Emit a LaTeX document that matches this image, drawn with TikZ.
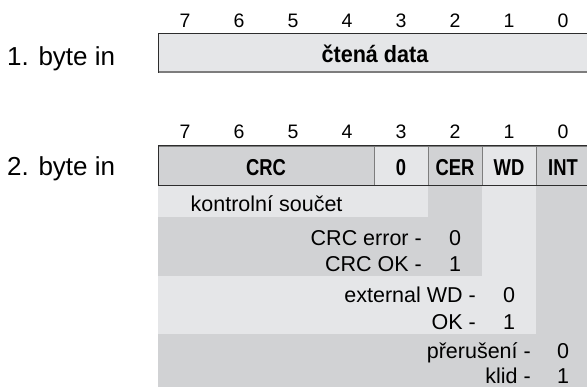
\documentclass[tikz,border=0pt]{standalone}
\usepackage{fontspec}
\setmainfont{Liberation Sans}
\newfontfamily\condbold{Liberation Sans}[FakeStretch=0.8,UprightFont={* Bold}]
\newfontfamily\databold{Liberation Sans}[FakeStretch=0.92,UprightFont={* Bold}]
\definecolor{cellLight}{RGB}{229,230,232}
\definecolor{cellDark}{RGB}{209,210,212}
\definecolor{frameDark}{RGB}{45,45,45}
\definecolor{frameGray}{RGB}{125,125,125}

\begin{document}
\begin{tikzpicture}[x=1pt,y=-1pt,
  bitnum/.style={anchor=base,inner sep=0,font=\fontsize{19.5}{22}\selectfont},
  rowlabel/.style={anchor=base west,inner sep=0,font=\fontsize{26}{30}\selectfont},
  field/.style={draw=frameGray,line width=0.8pt,inner sep=0,
    minimum height=39.3pt,anchor=north west},
  fieldtext/.style={anchor=base,inner sep=0,font=\condbold\fontsize{23}{27}\selectfont},
  desc/.style={anchor=base east,inner sep=0,font=\fontsize{21.5}{25}\selectfont},
  descwest/.style={anchor=base west,inner sep=0,font=\fontsize{21.5}{25}\selectfont},
  val/.style={anchor=base,inner sep=0,font=\fontsize{21.5}{25}\selectfont},
  frame/.style={draw=frameDark,line width=1pt}]

\useasboundingbox (0,0) rectangle (587,387);

% ---------- row labels ----------
\node[rowlabel] (lab1) at (7,66) {1. byte in};
\node[rowlabel] (lab2) at (7,176) {2. byte in};

% ---------- bit numbers ----------
\foreach \b [count=\i from 0] in {7,6,5,4,3,2,1,0} {
  \node[bitnum] (ta\b) at (185+54*\i,27.7) {\b};
  \node[bitnum] (tb\b) at (185+54*\i,139) {\b};
}

% ---------- first byte ----------
\fill[cellLight] (158,33.5) rectangle (592,72.7);
\draw[frameGray,line width=2pt] (158,71.7) -- (592,71.7);
\draw[frame] (592,33.5) -- (158,33.5) -- (158,72.7);
\node[anchor=base,inner sep=0,font=\databold\fontsize{23.5}{27}\selectfont]
  (data) at (375,62.8) {čtená data};

% ---------- description bands of the second byte ----------
\fill[cellDark]  (536,185) rectangle (592,387);
\fill[cellDark]  (158,334) rectangle (592,387);
\fill[cellLight] (482,185) rectangle (536,334);
\fill[cellLight] (158,276) rectangle (536,334);
\fill[cellDark]  (428,185) rectangle (482,276);
\fill[cellDark]  (158,217) rectangle (482,276);
\fill[cellLight] (158,185) rectangle (428,217);

% ---------- second byte fields ----------
\node[field,fill=cellDark,minimum width=216pt]  (crc) at (158,145.7) {};
\node[field,fill=cellLight,minimum width=54pt]  (zero) at (374,145.7) {};
\node[field,fill=cellDark,minimum width=54pt]   (cer) at (428,145.7) {};
\node[field,fill=cellLight,minimum width=54pt]  (wd) at (482,145.7) {};
\node[field,fill=cellDark,minimum width=54pt]   (int) at (536,145.7) {};
\draw[frame] (int.north east) -- (crc.north west) -- (crc.south west) -- (int.south east);

\node[fieldtext] (tcrc) at (266,175.5) {CRC};
\node[fieldtext] (tzero) at (401,175.5) {0};
\node[fieldtext] (tcer) at (455,175.5) {CER};
\node[fieldtext] (twd) at (509,175.5) {WD};
\node[fieldtext] (tint) at (563,175.5) {INT};

% ---------- descriptions ----------
\node[descwest] (ks) at (190.5,211.7) {kontrolní součet};

\node[desc] (cerr) at (422,245.7) {CRC error -};
\node[val]  (cerr0) at (455,245.7) {0};
\node[desc] (cok) at (422,271.7) {CRC OK -};
\node[val]  (cok1) at (455,271.7) {1};

\node[desc] (wext) at (476,302.7) {external WD -};
\node[val]  (wext0) at (509,302.7) {0};
\node[desc] (wok) at (476,330) {OK -};
\node[val]  (wok1) at (509,330) {1};

\node[desc] (iprer) at (531,359) {přerušení -};
\node[val]  (iprer0) at (563,359) {0};
\node[desc] (iklid) at (531,383.5) {klid -};
\node[val]  (iklid1) at (563,383.5) {1};
\end{tikzpicture}
\end{document}
